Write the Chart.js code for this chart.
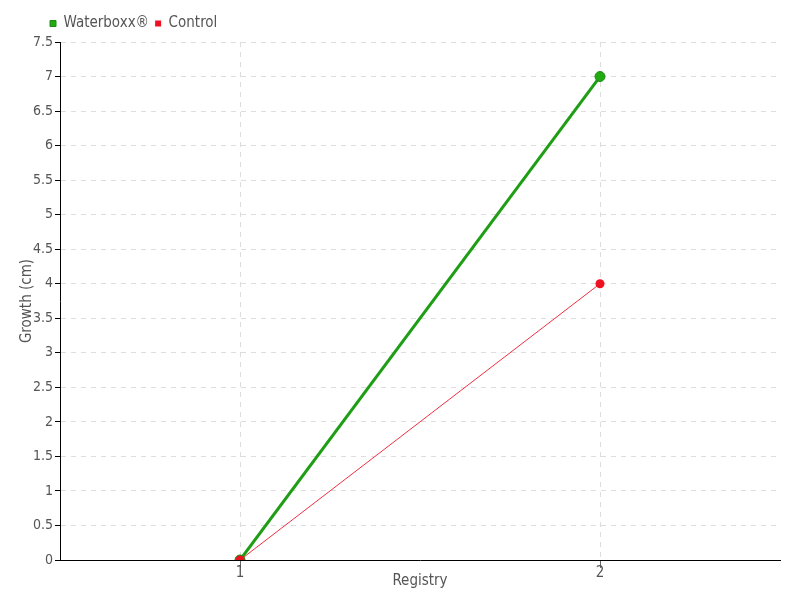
<!DOCTYPE html>
<html>
<head>
<meta charset="utf-8">
<script src="https://cdn.jsdelivr.net/npm/chart.js@4"></script>
<style>
  html, body { margin: 0; padding: 0; background: #fff; }
  #wrap { width: 800px; height: 600px; }
</style>
</head>
<body>
<div id="wrap"><canvas id="c" width="800" height="600"></canvas></div>
<script>
const registries = ['1', '2'];
const waterboxx = [0, 7];
const control = [0, 4];

const fontFam = '"Liberation Sans Narrow", "DejaVu Sans Condensed", sans-serif';
const txt = '#555';

// legend sits a little lower and further right than Chart.js puts it
const legendShift = {
  id: 'legendShift',
  beforeInit(chart) {
    const fit = chart.legend.fit;
    chart.legend.fit = function () {
      fit.bind(chart.legend)();
      this.height += 4;
    };
  },
  afterLayout(chart) {
    chart.legend.left = 44;
    chart.legend.top += 3;
  }
};

new Chart(document.getElementById('c'), {
  type: 'line',
  data: {
    labels: registries,
    datasets: [
      {
        label: 'Waterboxx®',
        data: waterboxx,
        borderColor: '#1e9e14',
        backgroundColor: '#22aa11',
        borderWidth: 3,
        pointRadius: 5,
        pointBorderWidth: 1,
        pointBorderColor: '#1e8a14',
        tension: 0,
        order: 1
      },
      {
        label: 'Control',
        data: control,
        borderColor: '#f03040',
        backgroundColor: '#ee1122',
        borderWidth: 1,
        pointRadius: 4.5,
        pointBorderWidth: 0,
        tension: 0,
        order: 0
      }
    ]
  },
  options: {
    responsive: false,
    animation: false,
    layout: { padding: { top: 7, right: 20, left: 0, bottom: 0 } },
    plugins: {
      legend: {
        align: 'start',
        labels: {
          usePointStyle: true,
          pointStyle: 'rect',
          boxWidth: 6,
          boxHeight: 6,
          padding: 6,
          color: txt,
          font: { family: fontFam, size: 15 },
          sort: (a, b) => a.datasetIndex - b.datasetIndex
        }
      },
      tooltip: { enabled: false }
    },
    scales: {
      x: {
        type: 'category',
        offset: true,
        title: { display: true, text: 'Registry', color: txt, font: { family: fontFam, size: 15 }, padding: { top: 0, bottom: 10 } },
        ticks: { color: txt, font: { family: fontFam, size: 15 }, padding: -4 },
        grid: { color: '#ddd', tickColor: '#666', tickLength: 8 },
        border: { color: '#000', dash: [5, 5] },
        afterFit(s) { s.height = 40; }
      },
      y: {
        min: 0,
        max: 7.5,
        title: { display: true, text: 'Growth (cm)', color: txt, font: { family: fontFam, size: 15 }, padding: { top: 18, bottom: 0 } },
        ticks: {
          stepSize: 0.5,
          color: txt,
          font: { family: fontFam, size: 14 },
          padding: 2,
          callback: v => String(+v.toFixed(1))
        },
        grid: { color: '#ddd', tickColor: '#000', tickLength: 5 },
        border: { color: '#000', dash: [5, 5] },
        afterFit(s) { s.width = 60; }
      }
    }
  },
  plugins: [legendShift]
});
</script>
</body>
</html>
